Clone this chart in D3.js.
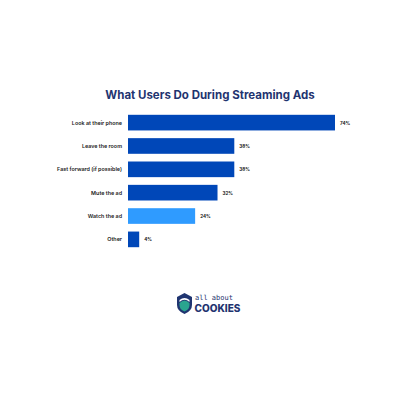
<!DOCTYPE html>
<html><head><meta charset="utf-8">
<script src="https://cdn.jsdelivr.net/npm/d3@7"></script>
<style>body{margin:0;background:#fff;font-family:Inter,sans-serif}</style>
</head><body>
<script>
var categories = ["Look at their phone","Leave the room","Fast forward (if possible)","Mute the ad","Watch the ad","Other"];
var values = [74, 38, 38, 32, 24, 4];
var highlight = "Watch the ad";

var svg = d3.select("body").append("svg").attr("width",420).attr("height",420);

svg.append("text").attr("x",210).attr("y",99).attr("text-anchor","middle")
  .attr("font-size",11.5).attr("font-weight",700).attr("fill","#1f3470")
  .text("What Users Do During Streaming Ads");

var x = d3.scaleLinear().domain([0,74]).range([128,335]);
var y = d3.scaleBand().domain(categories).range([112,250]).paddingInner(0.33).paddingOuter(0.12);

svg.selectAll("rect.bar").data(categories).enter().append("rect")
  .attr("x",x(0)).attr("y",function(d){return y(d);})
  .attr("width",function(d,i){return x(values[i])-x(0);})
  .attr("height",y.bandwidth())
  .attr("fill",function(d){return d===highlight ? "#2f9bff" : "#0047b8";});

svg.selectAll("text.cat").data(categories).enter().append("text")
  .attr("x",122).attr("y",function(d){return y(d)+y.bandwidth()/2+2;})
  .attr("text-anchor","end").attr("font-size",5.4).attr("font-weight",600).attr("fill","#222")
  .text(function(d){return d;});

svg.selectAll("text.val").data(categories).enter().append("text")
  .attr("x",function(d,i){return x(values[i])+5;}).attr("y",function(d){return y(d)+y.bandwidth()/2+2;})
  .attr("font-size",4.6).attr("font-weight",700).attr("fill","#222")
  .text(function(d,i){return values[i]+"%";});

// logo
var logo = svg.append("g");
logo.append("path").attr("d","M177,297 L184.5,293 L192,297 L192,305 Q192,311 184.5,314 Q177,311 177,305 Z").attr("fill","#1f3470");
logo.append("path").attr("d","M179.5,303 Q184.5,298 189.5,303 L189.5,305 Q189.5,309.5 184.5,311.5 Q179.5,309.5 179.5,305 Z").attr("fill","#2aa58f");
logo.append("path").attr("d","M179.5,300 Q184.5,296 189.5,300 L189.5,302 Q184.5,297.5 179.5,302 Z").attr("fill","#fff");
logo.append("text").attr("x",195).attr("y",300).attr("font-size",7).attr("font-family","'DejaVu Sans Mono',monospace").attr("fill","#1f3470").text("all about");
logo.append("text").attr("x",194.5).attr("y",311.5).attr("font-size",10).attr("font-weight",800).attr("fill","#1f3470").text("COOKIES");
</script>
</body></html>
